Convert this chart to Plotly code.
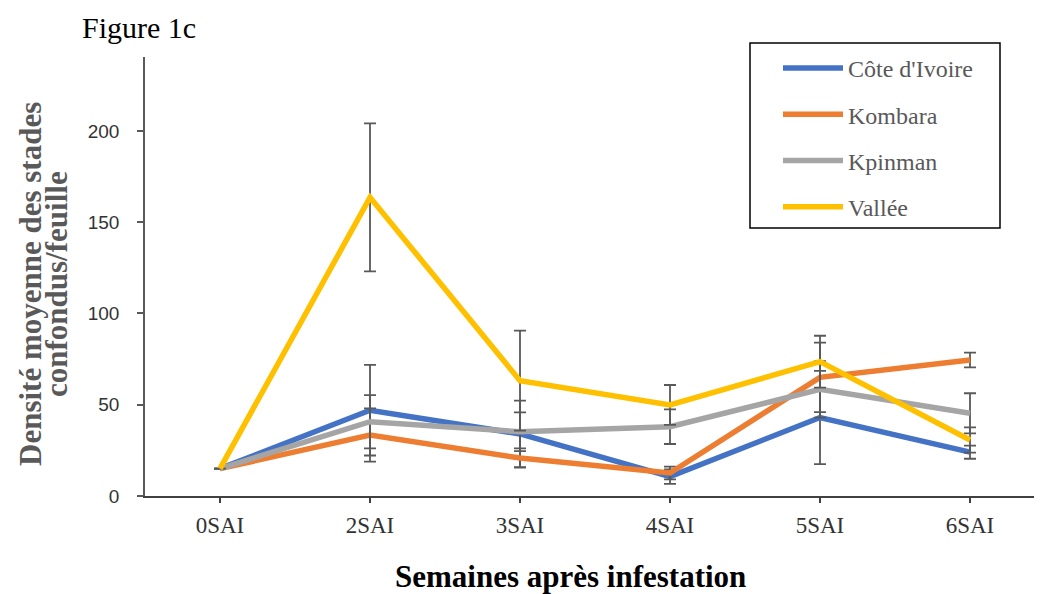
import plotly.graph_objects as go

categories = ["0SAI", "2SAI", "3SAI", "4SAI", "5SAI", "6SAI"]
series_names = ["Côte d'Ivoire", "Kombara", "Kpinman", "Vallée"]

cote_ivoire = [15, 47, 34, 10.6, 43, 24]
kombara = [15, 33.4, 20.8, 12.6, 65, 74.5]
kpinman = [15, 40.7, 35.2, 38, 58.4, 45.3]
vallee = [15, 163.6, 63.2, 49.9, 73.6, 30.7]

cote_ivoire_err = [0, 24.8, 18.2, 4.0, 25.5, 3.6]
kombara_err = [0, 14.6, 5.3, 3.5, 19.0, 4.0]
kpinman_err = [0, 14.6, 10.6, 9.5, 15.5, 11.0]
vallee_err = [0, 40.5, 27.4, 10.9, 14.2, 6.9]

colors = ["#4472C4", "#ED7D31", "#A5A5A5", "#FFC000"]
values = [cote_ivoire, kombara, kpinman, vallee]
errors = [cote_ivoire_err, kombara_err, kpinman_err, vallee_err]

# page body has an 8px margin: figure starts at screen (8, 8)
OFF = 8
W, H = 1042 - OFF, 594 - OFF
L, R, T, B = 145 - OFF, 0, 57 - OFF, 594 - 496
PW, PH = W - L - R, H - T - B

def px(x):
    return (x - OFF - L) / PW

def py(y):
    return (H - B - (y - OFF)) / PH

fig = go.Figure()
for name, vals, err, col in zip(series_names, values, errors, colors):
    fig.add_trace(go.Scatter(
        x=categories, y=vals, name=name, mode="lines",
        legendgroup=name,
        line=dict(color=col, width=5.5),
        error_y=dict(type="data", array=err, visible=True,
                     color="#595959", thickness=1.8, width=6),
    ))

fig.update_layout(
    width=W, height=H,
    margin=dict(l=L, r=R, t=T, b=B),
    paper_bgcolor="white", plot_bgcolor="white",
    showlegend=True,
    legend=dict(
        x=px(778), y=py(46), xanchor="left", yanchor="top",
        font=dict(family="Liberation Serif", size=24, color="#595959"),
        bgcolor="rgba(0,0,0,0)", borderwidth=0,
        traceorder="grouped", tracegroupgap=12, itemwidth=60,
    ),
    xaxis=dict(
        type="category", range=[-0.5, 5.48],
        showline=True, linecolor="#404040", linewidth=2,
        ticks="outside", ticklen=5, tickcolor="#404040", tickwidth=1.5,
        showgrid=False, zeroline=False,
        tickfont=dict(family="Liberation Serif", size=23, color="#333333"),
        ticklabelstandoff=2,
    ),
    yaxis=dict(
        range=[0, 240.5], tickvals=[0, 50, 100, 150, 200],
        showline=True, linecolor="#595959", linewidth=1.5,
        ticks="outside", ticklen=6, tickcolor="#595959", tickwidth=1.5,
        showgrid=False, zeroline=False,
        tickfont=dict(family="Liberation Sans", size=19, color="#333333"),
        ticklabelstandoff=14,
    ),
    shapes=[dict(type="rect", xref="paper", yref="paper",
                 x0=px(750), x1=px(1000), y0=py(228), y1=py(43),
                 line=dict(color="black", width=1.5), fillcolor="rgba(0,0,0,0)")],
    annotations=[
        dict(text="Figure 1c", xref="paper", yref="paper", x=px(139), y=py(9),
             xanchor="center", yanchor="top", showarrow=False,
             font=dict(family="Liberation Serif", size=30, color="black")),
        dict(text="<b>Semaines après infestation</b>", xref="paper", yref="paper",
             x=px(570), y=py(576), xanchor="center", yanchor="middle", showarrow=False,
             font=dict(family="Liberation Serif", size=31, color="black")),
        dict(text="<b>Densité moyenne des stades</b>", xref="paper", yref="paper",
             x=px(30), y=py(284), xanchor="center", yanchor="middle", showarrow=False,
             textangle=-90,
             font=dict(family="Liberation Serif", size=31, color="#595959")),
        dict(text="<b>confondus/feuille</b>", xref="paper", yref="paper",
             x=px(56), y=py(284), xanchor="center", yanchor="middle", showarrow=False,
             textangle=-90,
             font=dict(family="Liberation Serif", size=31, color="#595959")),
    ],
)

fig.write_html("out.html")
